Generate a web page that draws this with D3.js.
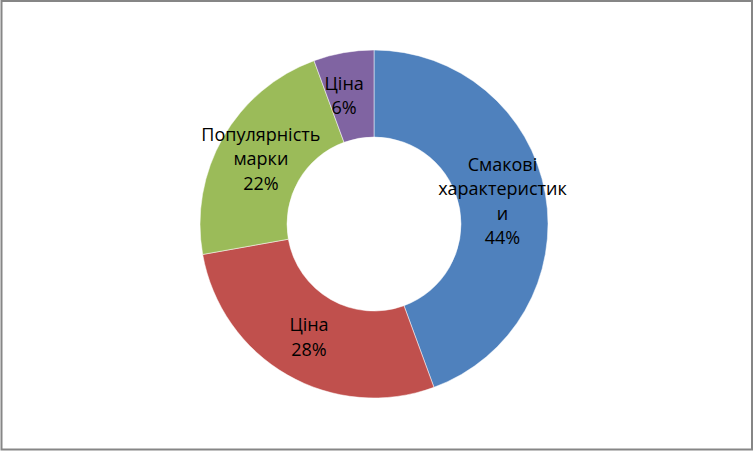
<!DOCTYPE html>
<html>
<head>
<meta charset="utf-8">
<script src="https://cdn.jsdelivr.net/npm/d3@7"></script>
<style>
  body { margin: 0; background: #fff; }
  svg { display: block; }
</style>
</head>
<body>
<div id="chart"></div>
<script>
// Chart data
const categories = ['Смакові характеристики', 'Ціна', 'Популярність марки', 'Ціна'];
const values = [44.4, 27.8, 22.2, 5.6];
const percentLabels = ['44%', '28%', '22%', '6%'];
// how the labels wrap inside the slices
const labelLines = [
  ['Смакові', 'характеристик', 'и'],
  ['Ціна'],
  ['Популярність', 'марки'],
  ['Ціна']
];
const colors = ['#4F81BD', '#C0504D', '#9BBB59', '#8064A2'];

const width = 753;
const height = 451;
const cx = 374, cy = 224;
const outerR = 174, innerR = 87;

const svg = d3.select('#chart')
  .append('svg')
  .attr('width', width)
  .attr('height', height);

// chart frame
svg.append('rect')
  .attr('x', 1.5)
  .attr('y', 1)
  .attr('width', 750.5)
  .attr('height', 448.5)
  .attr('fill', '#fff')
  .attr('stroke', '#868686')
  .attr('stroke-width', 2);

const g = svg.append('g')
  .attr('transform', `translate(${cx},${cy})`);

const pie = d3.pie().sort(null).value(d => d);
const arcs = pie(values);

const arc = d3.arc().innerRadius(innerR).outerRadius(outerR);

g.selectAll('path')
  .data(arcs)
  .enter()
  .append('path')
  .attr('d', arc)
  .attr('fill', (d, i) => colors[i])
  .attr('stroke', '#fff')
  .attr('stroke-width', 0.5);

const lineH = 24.5;
// small nudges so labels sit where the original placed them
const nudgeX = [0, 0, 0, -7];

arcs.forEach((d, i) => {
  const [x, y] = arc.centroid(d);
  const lines = labelLines[i].concat([percentLabels[i]]);
  const t = g.append('text')
    .attr('text-anchor', 'middle')
    .attr('font-family', '"Open Sans", sans-serif')
    .attr('font-size', 18)
    .attr('fill', '#000');
  lines.forEach((s, k) => {
    t.append('tspan')
      .attr('x', x + nudgeX[i])
      .attr('y', y + (k - (lines.length - 1) / 2) * lineH)
      .attr('dy', '0.35em')
      .text(s);
  });
});
</script>
</body>
</html>
